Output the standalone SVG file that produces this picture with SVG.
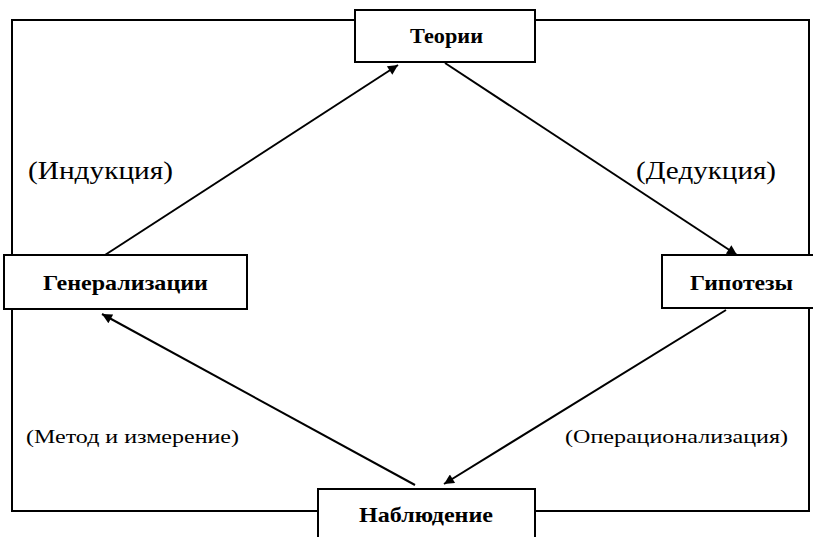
<svg xmlns="http://www.w3.org/2000/svg" width="813" height="537" viewBox="0 0 813 537">
<style>
.frame{fill:none;stroke:#000;stroke-width:2}
.box{fill:#fff;stroke:#000;stroke-width:2}
.lbl{font-family:"Liberation Serif","Times New Roman",serif;font-weight:bold;font-size:21px;fill:#000}
.note{font-family:"Liberation Serif","Times New Roman",serif;fill:#000}
.big{font-size:26px}
.small{font-size:19px}
.conn{stroke:#000;stroke-width:2;fill:none;marker-end:url(#ah)}
</style>
<defs>
<marker id="ah" viewBox="0 0 10 10" refX="10" refY="5" markerWidth="13" markerHeight="10" markerUnits="userSpaceOnUse" orient="auto">
<path d="M0,0 L10,5 L0,10 z" fill="#000"/>
</marker>
</defs>
<rect width="813" height="537" fill="#fff"/>
<rect class="frame" x="12" y="20" width="797" height="491"/>
<g id="connectors">
<line class="conn" x1="105" y1="255" x2="398" y2="65"/>
<line class="conn" x1="445" y1="63" x2="737" y2="255"/>
<line class="conn" x1="726" y1="310" x2="444" y2="484"/>
<line class="conn" x1="415" y1="485" x2="102" y2="314"/>
</g>
<g id="node-teorii">
<rect class="box" x="355" y="10" width="180" height="52"/>
<text class="lbl" x="410" y="43" textLength="73" lengthAdjust="spacingAndGlyphs">Теории</text>
</g>
<g id="node-generalizacii">
<rect class="box" x="4" y="255" width="243" height="54"/>
<text class="lbl" x="43" y="290" textLength="165" lengthAdjust="spacingAndGlyphs">Генерализации</text>
</g>
<g id="node-gipotezy">
<rect class="box" x="662" y="255" width="152" height="53"/>
<text class="lbl" x="690" y="290" textLength="103" lengthAdjust="spacingAndGlyphs">Гипотезы</text>
</g>
<g id="node-nabludenie">
<rect class="box" x="318" y="489" width="217" height="60"/>
<text class="lbl" x="359" y="522" textLength="134" lengthAdjust="spacingAndGlyphs">Наблюдение</text>
</g>
<g id="labels">
<text class="note big" x="28" y="179" textLength="145" lengthAdjust="spacingAndGlyphs">(Индукция)</text>
<text class="note big" x="636" y="179" textLength="140" lengthAdjust="spacingAndGlyphs">(Дедукция)</text>
<text class="note small" x="26" y="443" textLength="213" lengthAdjust="spacingAndGlyphs">(Метод и измерение)</text>
<text class="note small" x="565" y="443" textLength="223" lengthAdjust="spacingAndGlyphs">(Операционализация)</text>
</g>
</svg>
